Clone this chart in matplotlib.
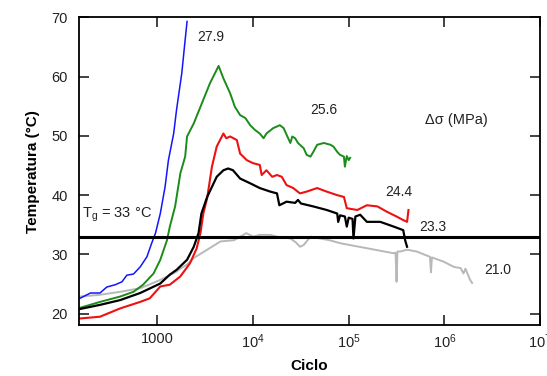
import numpy as np
import matplotlib
matplotlib.use("Agg")
import matplotlib.pyplot as plt

plt.rcParams["font.family"] = ["Liberation Sans", "DejaVu Sans"]
plt.rcParams["mathtext.fontset"] = "custom"
plt.rcParams["mathtext.rm"] = "Liberation Sans"
plt.rcParams["mathtext.it"] = "Liberation Sans"

# Temperature vs. cycles (log10 of cycle count) for each stress amplitude
blue_logn = [2.19, 2.30, 2.40, 2.47, 2.56, 2.63, 2.68, 2.75, 2.82, 2.89, 2.94, 2.98,
             3.03, 3.08, 3.115, 3.17, 3.20, 3.255, 3.29, 3.31]
blue_t = [22.6, 23.5, 23.5, 24.5, 24.9, 25.4, 26.5, 26.7, 27.9, 29.6, 31.9, 33.6,
          36.9, 41.4, 45.9, 50.4, 54.4, 60.6, 66.2, 69.3]

green_logn = [2.19, 2.40, 2.61, 2.75, 2.85, 2.96, 3.03, 3.10, 3.13, 3.185, 3.24, 3.29,
              3.31, 3.38, 3.45, 3.55, 3.64, 3.69, 3.76, 3.81, 3.865, 3.92, 3.97, 4.02,
              4.07, 4.11, 4.14, 4.21, 4.28, 4.32, 4.35, 4.39, 4.41, 4.44, 4.47, 4.53,
              4.56, 4.60, 4.63, 4.67, 4.74, 4.81, 4.84, 4.88, 4.91, 4.95, 4.96, 4.98,
              5.00, 5.015]
green_t = [21.0, 22.0, 22.9, 23.7, 24.9, 26.8, 29.1, 32.4, 34.7, 38.1, 43.7, 46.5,
           49.9, 52.1, 54.9, 58.9, 61.8, 59.7, 57.2, 54.9, 53.5, 53.0, 51.8, 51.0,
           50.4, 49.6, 50.4, 51.3, 51.8, 51.3, 50.2, 48.8, 49.9, 49.6, 48.8, 47.9,
           46.8, 46.5, 47.3, 48.5, 48.8, 48.5, 48.2, 47.3, 46.8, 46.5, 44.8, 46.6,
           45.9, 46.3]

red_logn = [2.19, 2.40, 2.61, 2.82, 2.92, 3.03, 3.13, 3.24, 3.34, 3.41, 3.45, 3.48,
            3.52, 3.57, 3.62, 3.69, 3.72, 3.76, 3.83, 3.865, 3.935, 4.00, 4.07, 4.09,
            4.14, 4.20, 4.25, 4.30, 4.35, 4.42, 4.49, 4.56, 4.67, 4.77, 4.88, 4.95,
            4.98, 5.09, 5.19, 5.30, 5.40, 5.50, 5.57, 5.61, 5.625]
red_t = [19.2, 19.5, 20.9, 22.0, 22.6, 24.6, 24.9, 26.3, 28.5, 31.0, 33.6, 36.9,
         39.5, 44.8, 48.2, 50.4, 49.6, 49.9, 49.3, 47.0, 45.9, 45.4, 45.1, 43.4,
         44.2, 43.1, 43.4, 43.1, 41.7, 41.2, 40.3, 40.6, 41.2, 40.6, 40.0, 39.7,
         37.8, 37.5, 38.3, 38.1, 37.2, 36.4, 35.8, 35.5, 37.5]

black_logn = [2.19, 2.40, 2.61, 2.82, 3.03, 3.13, 3.20, 3.31, 3.38, 3.43, 3.46, 3.52,
              3.57, 3.62, 3.69, 3.74, 3.79, 3.865, 3.97, 4.07, 4.18, 4.25, 4.275, 4.35,
              4.44, 4.47, 4.50, 4.63, 4.77, 4.88, 4.89, 4.91, 4.96, 4.98, 5.00, 5.04,
              5.05, 5.07, 5.12, 5.19, 5.33, 5.47, 5.57, 5.59, 5.61]
black_t = [20.8, 21.5, 22.3, 23.5, 25.1, 26.6, 27.4, 29.1, 31.3, 33.6, 36.9, 39.7,
           41.4, 43.1, 44.2, 44.5, 44.2, 42.8, 42.0, 41.2, 40.6, 40.3, 38.3, 38.9,
           38.7, 39.2, 38.6, 38.1, 37.5, 36.9, 35.5, 36.6, 36.4, 34.7, 36.2, 36.0,
           32.7, 36.4, 36.7, 35.5, 35.5, 34.7, 34.1, 32.4, 31.3]

gray_logn = [2.19, 2.40, 2.61, 2.82, 3.03, 3.20, 3.24, 3.31, 3.38, 3.52, 3.66, 3.80,
             3.93, 4.00, 4.07, 4.18, 4.25, 4.39, 4.45, 4.49, 4.53, 4.60, 4.70, 4.80,
             4.91, 5.47, 5.49, 5.50, 5.51, 5.54, 5.61, 5.71, 5.85, 5.86, 5.87, 5.99,
             6.10, 6.17, 6.20, 6.22, 6.27, 6.29]
gray_t = [22.9, 23.2, 23.7, 24.3, 25.7, 27.1, 27.6, 28.3, 29.4, 30.8, 32.2, 32.4,
          33.6, 33.0, 33.3, 33.3, 33.0, 32.7, 32.0, 31.3, 31.6, 33.0, 32.7, 32.4,
          31.9, 30.2, 30.3, 25.4, 30.5, 30.5, 30.8, 30.5, 29.6, 27.0, 29.5, 28.8,
          27.9, 27.7, 26.8, 27.6, 25.7, 25.2]

series = [
    (gray_logn, gray_t, "#b8b8b8", 1.4),
    (blue_logn, blue_t, "#1414ff", 1.1),
    (green_logn, green_t, "#1a8c1a", 1.4),
    (red_logn, red_t, "#ee1111", 1.5),
    (black_logn, black_t, "#000000", 1.6),
]

stress_labels = ["27.9", "25.6", "24.4", "23.3", "21.0"]
label_cycles = [2600, 40000, 2.4e5, 5.4e5, 2.6e6]
label_temps = [66.7, 54.4, 40.6, 34.7, 27.4]

tg_value = 33.0

fig = plt.figure(figsize=(5.47, 3.76), dpi=100)
ax = fig.add_axes([0.1444, 0.1356, 0.8428, 0.8184])

for logn, temps, color, lw in series:
    ax.plot(10 ** np.asarray(logn), temps, color=color, lw=lw)

ax.axhline(tg_value, color="black", lw=2.2)

ax.set_xscale("log")
ax.set_xlim(10 ** 2.18, 1e7)
ax.set_ylim(18.1, 70)

xticks = [1e3, 1e4, 1e5, 1e6, 1e7]
xticklabels = ["1000", "$10^4$", "$10^5$", "$10^6$", "$10^7$"]
ax.set_xticks(xticks)
ax.set_xticklabels(xticklabels)
ax.minorticks_off()
ax.set_yticks([20, 30, 40, 50, 60, 70])

ax.tick_params(axis="both", which="major", direction="in", length=7, width=1.2,
               top=True, right=True, labelsize=10.5, colors="#222222")
ax.tick_params(axis="y", pad=8)
ax.tick_params(axis="x", pad=5)
for sp in ax.spines.values():
    sp.set_linewidth(1.3)

ax.set_xlabel("Ciclo", fontsize=11, fontweight="bold", labelpad=6)
ax.set_ylabel("Temperatura (°C)", fontsize=11, fontweight="bold", labelpad=8)

for txt, xc, yc in zip(stress_labels, label_cycles, label_temps):
    ax.text(xc, yc, txt, fontsize=10, ha="left", va="center", color="#222222")

ax.text(6.3e5, 52.7, "Δσ (MPa)", fontsize=10.5, ha="left", va="center", color="#222222")
ax.text(162, 36.2, r"T$_{\mathrm{g}}$ = 33 °C", fontsize=10.5, ha="left",
        va="baseline", color="#222222")

fig.savefig("out.png", dpi=100)
